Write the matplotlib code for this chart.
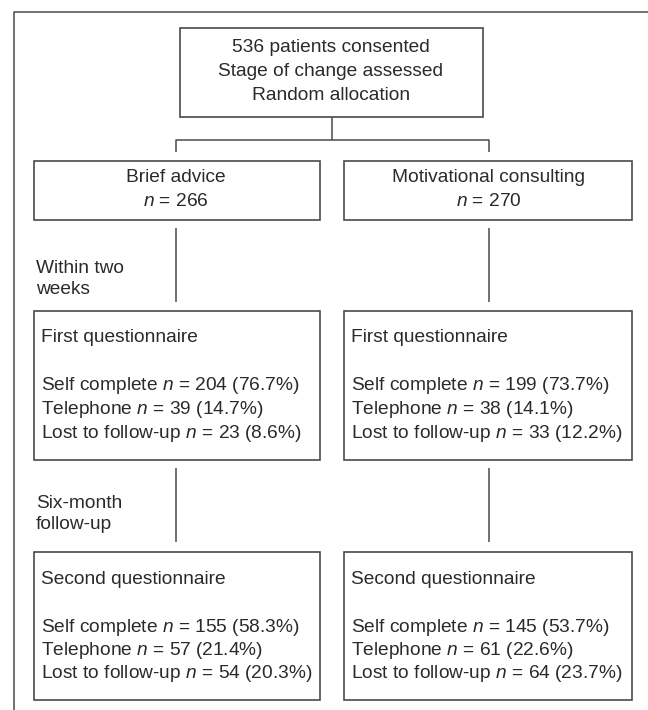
import matplotlib.pyplot as plt
from matplotlib.patches import Rectangle

# === Flowchart content ===
top_lines = ["536 patients consented", "Stage of change assessed", "Random allocation"]
arms = ["Brief advice", "Motivational consulting"]
arm_n = [266, 270]
stage_labels = ["Within two\nweeks", "Six-month\nfollow-up"]
box_titles = ["First questionnaire", "Second questionnaire"]
rows = ["Self complete", "Telephone", "Lost to follow-up"]
# counts[stage][arm]
counts = [[[204, 39, 23], [199, 38, 33]],
          [[155, 57, 54], [145, 61, 64]]]
pcts = [[["76.7", "14.7", "8.6"], ["73.7", "14.1", "12.2"]],
        [["58.3", "21.4", "20.3"], ["53.7", "22.6", "23.7"]]]

plt.rcParams['font.family'] = ['Liberation Sans', 'DejaVu Sans']
plt.rcParams['mathtext.fontset'] = 'custom'
plt.rcParams['mathtext.it'] = 'Liberation Sans:italic'
plt.rcParams['mathtext.rm'] = 'Liberation Sans'

LINE = '#4a4a4a'
TXT = '#2a2a2a'
FS = 13.8

fig = plt.figure(figsize=(6.48, 7.10), dpi=100)
ax = fig.add_axes([0, 0, 1, 1])
ax.set_xlim(0, 648)
ax.set_ylim(710, 0)
ax.axis('off')


def box(x0, y0, x1, y1):
    ax.add_patch(Rectangle((x0, y0), x1 - x0, y1 - y0, fill=False,
                           edgecolor=LINE, linewidth=1.2))


def line(xs, ys):
    ax.plot(xs, ys, color=LINE, linewidth=1.1, solid_capstyle='butt')


# outer frame (cut at right and bottom)
line([14, 14, 648], [710, 12, 12])

# top box
box(180, 28, 483, 117)
for i, t in enumerate(top_lines):
    ax.text(331, 48 + i * 24, t, ha='center', va='center', fontsize=FS, color=TXT)

# connector
line([332, 332], [117, 140])
line([176, 176, 489, 489], [152, 140, 140, 152])

arm_x = [(34, 320), (344, 632)]
centers = [176, 489]

for a in range(2):
    x0, x1 = arm_x[a]
    box(x0, 161, x1, 220)
    ax.text(centers[a], 178, arms[a], ha='center', va='center', fontsize=FS, color=TXT)
    ax.text(centers[a], 202, "$n$ = %d" % arm_n[a], ha='center', va='center',
            fontsize=FS, color=TXT)

stage_top = [311, 552]
stage_bot = [460, 700]
line_start = [228, 468]
line_end = [302, 542]
label_y = [279, 514]

for s in range(2):
    ax.text(36, label_y[s], stage_labels[s], ha='left', va='center', fontsize=FS,
            color=TXT, linespacing=1.3)
    for a in range(2):
        x0, x1 = arm_x[a]
        line([centers[a], centers[a]], [line_start[s], line_end[s]])
        box(x0, stage_top[s], x1, stage_bot[s])
        tx = x0 + 7
        ax.text(tx, stage_top[s] + 27, box_titles[s], ha='left', va='center',
                fontsize=FS, color=TXT)
        for r in range(3):
            ax.text(tx, stage_top[s] + 75 + r * 23.5,
                    "%s $n$ = %d (%s%%)" % (rows[r], counts[s][a][r], pcts[s][a][r]),
                    ha='left', va='center', fontsize=FS, color=TXT)

fig.savefig("out.png", dpi=100, facecolor='white')
